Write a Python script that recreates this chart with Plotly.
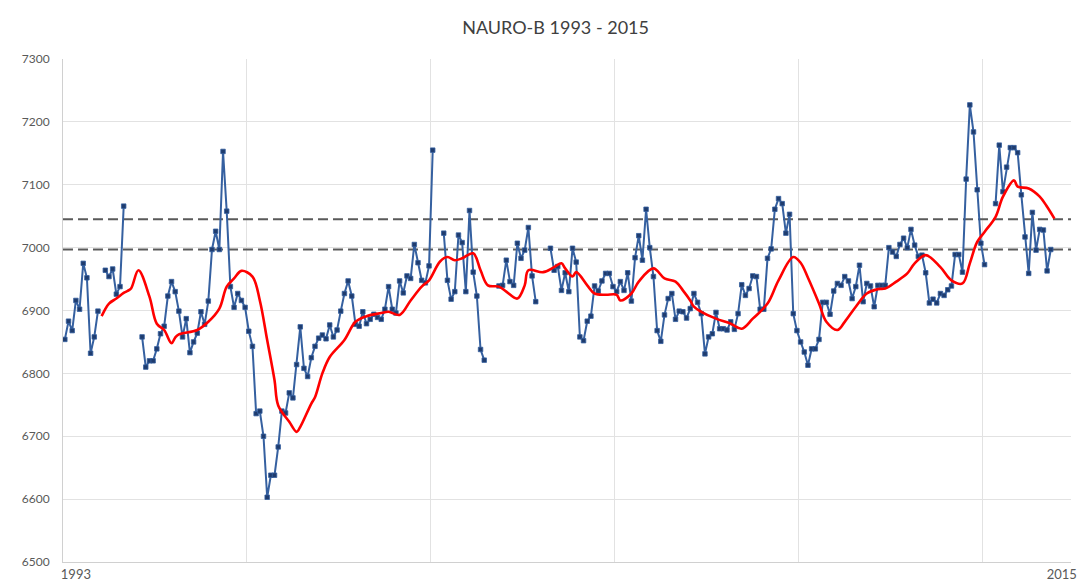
import plotly.graph_objects as go

# ---------------- data ----------------
n_months = 274                      # monthly categories starting Jan 1993
tick_months = [3, 271]
tick_labels = ["1993", "2015"]

# blue series, as (first month index, values) segments
seg_a_start = 0
seg_a = [6854, 6883, 6868, 6916, 6902, 6975, 6952, 6832, 6858, 6899]
seg_b_start = 11
seg_b = [6964, 6954, 6966, 6926, 6938, 7066]
seg_c_start = 21
seg_c = [6858, 6810, 6820, 6820, 6839, 6863, 6875, 6923, 6946, 6930,
         6899, 6858, 6887, 6833, 6850, 6864, 6898, 6878, 6915, 6997,
         7026, 6997, 7153, 7058, 6938, 6905, 6927, 6916, 6905, 6867,
         6843, 6736, 6740, 6700, 6603, 6638, 6638, 6683, 6740, 6737,
         6769, 6761, 6814, 6874, 6808, 6795, 6825, 6843, 6856, 6861,
         6855, 6877, 6858, 6869, 6899, 6927, 6947, 6923, 6878, 6875,
         6898, 6879, 6886, 6894, 6889, 6886, 6902, 6938, 6902, 6896,
         6947, 6928, 6955, 6951, 7005, 6976, 6948, 6944, 6971, 7155]
seg_d_start = 103
seg_d = [7023, 6948, 6918, 6930, 7020, 7008, 6930, 7059, 6961, 6923, 6838, 6821]
seg_e_start = 118
seg_e = [6939, 6940, 6980, 6946, 6940, 7007, 6983, 6996, 7032, 6955, 6914]
seg_f_start = 132
seg_f = [6999, 6964, 6970, 6932, 6960, 6930, 6999, 6977, 6858, 6852,
         6883, 6891, 6939, 6931, 6947, 6959, 6959, 6938, 6930, 6946,
         6932, 6960, 6915, 6984, 7019, 6980, 7061, 7000, 6954, 6868,
         6851, 6893, 6919, 6927, 6886, 6899, 6898, 6888, 6903, 6927,
         6913, 6895, 6831, 6858, 6863, 6897, 6871, 6871, 6869, 6882,
         6870, 6895, 6941, 6924, 6935, 6955, 6954, 6902, 6902, 6983,
         6998, 7061, 7078, 7070, 7023, 7053, 6895, 6868, 6850, 6834,
         6813, 6839, 6839, 6854, 6913, 6913, 6894, 6931, 6943, 6940,
         6954, 6947, 6919, 6938, 6972, 6914, 6943, 6939, 6906, 6940,
         6940, 6940, 7000, 6993, 6986, 7005, 7015, 7000, 7029, 7004,
         6986, 6988, 6960, 6912, 6918, 6912, 6927, 6924, 6933, 6939,
         6989, 6989, 6961, 7109, 7227, 7184, 7092, 7007, 6973]
seg_g_start = 253
seg_g = [7070, 7163, 7089, 7128, 7159, 7159, 7151, 7084, 7017, 6959,
         7056, 6996, 7029, 7028, 6963, 6997]

# red smoothed series
red_month = [10, 12, 14, 16, 17, 18, 20, 23, 25, 27, 29, 30, 31, 36, 39, 42, 44, 46, 48,
             51, 53, 55, 57, 58, 61, 63, 64, 67, 68, 70, 72, 76, 79, 82, 86, 88, 91, 94,
             97, 99, 102, 104, 106, 108, 111, 113, 115, 118, 120, 123, 125, 126, 130, 133,
             135, 136, 138, 139, 142, 144, 147, 150, 151, 154, 156, 160, 163, 166, 168,
             170, 171, 173, 177, 181, 184, 187, 191, 194, 198, 200, 202, 205, 207, 210,
             212, 215, 218, 221, 223, 226, 229, 231, 234, 238, 241, 244, 246, 248, 250,
             253, 255, 258, 259, 262, 265, 267, 269]
red_value = [6891, 6911, 6919, 6928, 6931, 6935, 6964, 6922, 6879, 6869, 6848, 6857, 6862,
             6869, 6882, 6903, 6938, 6951, 6963, 6954, 6916, 6853, 6789, 6749, 6723, 6707,
             6715, 6752, 6762, 6800, 6826, 6853, 6882, 6891, 6896, 6898, 6893, 6916, 6938,
             6948, 6978, 6985, 6980, 6983, 6991, 6964, 6940, 6938, 6930, 6919, 6940, 6964,
             6961, 6969, 6975, 6967, 6954, 6961, 6940, 6927, 6925, 6925, 6916, 6927, 6946,
             6967, 6951, 6946, 6932, 6916, 6906, 6898, 6887, 6879, 6871, 6887, 6911, 6948,
             6985, 6976, 6952, 6911, 6882, 6869, 6882, 6906, 6927, 6934, 6935, 6946, 6959,
             6975, 6988, 6969, 6948, 6943, 6975, 7009, 7025, 7049, 7081, 7107, 7097, 7094,
             7081, 7065, 7046]

threshold_upper = 7045
threshold_lower = 6997

# ---------------- build ----------------
months = list(range(n_months))
blue = [None] * n_months
for start, vals in [(seg_a_start, seg_a), (seg_b_start, seg_b), (seg_c_start, seg_c),
                    (seg_d_start, seg_d), (seg_e_start, seg_e), (seg_f_start, seg_f),
                    (seg_g_start, seg_g)]:
    for k, v in enumerate(vals):
        blue[start + k] = v

x_lo, x_hi = -0.5, n_months - 0.5
fig = go.Figure()
for t in (threshold_upper, threshold_lower):
    fig.add_trace(go.Scatter(x=[x_lo, x_hi], y=[t, t], mode="lines",
                             line=dict(color="#5a5a5a", width=2, dash="10px,5px"),
                             hoverinfo="skip", showlegend=False))
fig.add_trace(go.Scatter(x=months, y=blue, mode="lines+markers", connectgaps=False,
                         line=dict(color="#3560a0", width=2),
                         marker=dict(symbol="square", size=4.5, color="#1f3c6e",
                                     line=dict(color="#3560a0", width=0.8)),
                         showlegend=False))
fig.add_trace(go.Scatter(x=red_month, y=red_value, mode="lines",
                         line=dict(color="#ff0000", width=2.6, shape="spline", smoothing=1.0),
                         showlegend=False))

font_family = "Lato, 'Open Sans', sans-serif"
fig.update_layout(
    width=1083, height=586, autosize=False,
    margin=dict(l=63, r=12, t=59, b=24),
    paper_bgcolor="white", plot_bgcolor="white",
    title=dict(text="NAURO-B 1993 - 2015", x=0.513, xanchor="center",
               y=1 - 28 / 586, yanchor="middle", automargin=False,
               font=dict(family=font_family, size=18, color="#404040")),
    xaxis=dict(range=[x_lo, x_hi], tickmode="array", tickvals=tick_months,
               ticktext=tick_labels, showgrid=False, zeroline=False, automargin=False,
               showline=True, linecolor="#d0d0d0", linewidth=1,
               ticks="", tickfont=dict(family=font_family, size=13, color="#595959"),
               minor=dict(tick0=-0.5, dtick=50, showgrid=True, gridcolor="#e2e2e2",
                          gridwidth=1, ticks="")),
    yaxis=dict(range=[6500, 7300], dtick=100, showgrid=True, gridcolor="#e2e2e2",
               gridwidth=1, zeroline=False, showline=True, linecolor="#d0d0d0",
               ticks="", ticklabelstandoff=10, automargin=False,
               tickfont=dict(family=font_family, size=12, color="#595959")),
)

fig.write_html("out.html", config={"displayModeBar": False},
               post_script="document.body.style.margin='0';document.body.style.overflow='hidden';")
